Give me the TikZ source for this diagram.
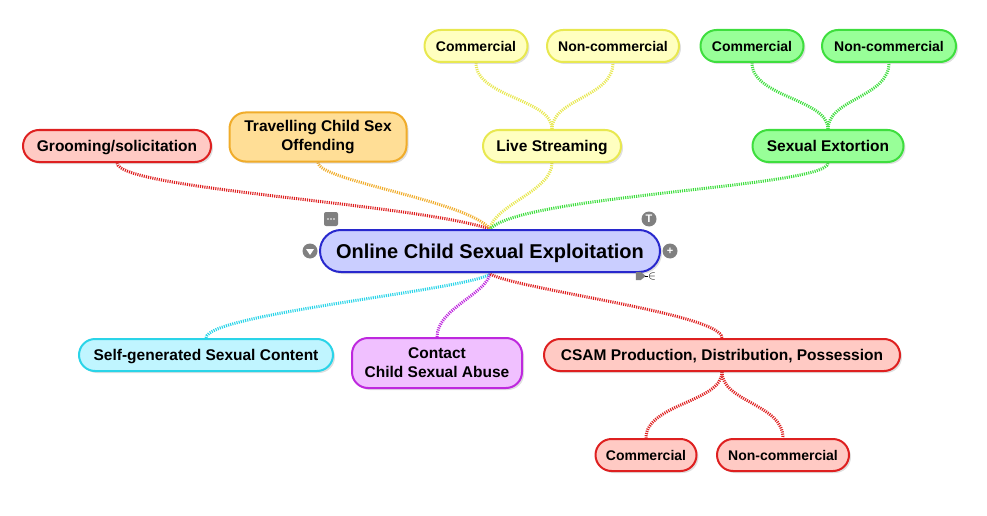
\documentclass[tikz,border=0pt]{standalone}
\usepackage{fontspec}
\setmainfont{Liberation Sans}
\usetikzlibrary{shadows,calc,backgrounds}

\definecolor{redline}{RGB}{222,32,32}
\definecolor{redfill}{RGB}{255,202,196}
\definecolor{orangeline}{RGB}{240,172,42}
\definecolor{orangefill}{RGB}{255,222,150}
\definecolor{yellowline}{RGB}{232,232,80}
\definecolor{yellowfill}{RGB}{255,255,192}
\definecolor{greenline}{RGB}{62,222,62}
\definecolor{greenfill}{RGB}{152,255,152}
\definecolor{blueline}{RGB}{40,40,205}
\definecolor{bluefill}{RGB}{202,206,255}
\definecolor{cyanline}{RGB}{42,212,232}
\definecolor{cyanfill}{RGB}{192,245,255}
\definecolor{purpleline}{RGB}{190,40,222}
\definecolor{purplefill}{RGB}{240,192,255}
\definecolor{icongray}{RGB}{128,128,128}

\tikzset{
  topic/.style 2 args={draw=#1, fill=#2, line width=2pt, rounded corners=16pt,
    minimum height=32pt, text=black, text height=13pt, text depth=2pt,
    font=\fontsize{15.5}{19}\selectfont\bfseries,
    drop shadow={opacity=0.25, shadow xshift=2pt, shadow yshift=-2pt}},
  twoline/.style={align=center, text height=, text depth=},
  subtopic/.style 2 args={topic={#1}{#2}, font=\fontsize{14}{17}\selectfont\bfseries},
  link/.style={draw=#1, line width=3pt, dash pattern=on 1.1pt off 1.1pt},
  knob/.style={circle, fill=icongray, inner sep=0pt, minimum size=15pt,
    text=white, font=\fontsize{11}{11}\selectfont\bfseries}
}

\begin{document}
\begin{tikzpicture}[x=1pt, y=-1pt]
  \useasboundingbox (0,0) rectangle (987,516);

  % central topic
  \node[topic={blueline}{bluefill}, minimum width=340pt, minimum height=42pt,
        rounded corners=21pt, font=\fontsize{20}{24}\selectfont\bfseries,
        text height=16.5pt, text depth=2.5pt]
        (hub) at (490,251) {Online Child Sexual Exploitation};
  \coordinate (hubtop) at (490,229);
  \coordinate (hubbot) at (490,274);

  % upper branches
  \node[topic={redline}{redfill}, minimum width=188pt] (groom) at (117,146) {Grooming/solicitation};
  \node[topic={orangeline}{orangefill}, twoline, minimum width=177pt, minimum height=49pt]
        (travel) at (318,137) {Travelling Child Sex\\Offending};
  \node[topic={yellowline}{yellowfill}, minimum width=138pt] (live) at (552,146) {Live Streaming};
  \node[topic={greenline}{greenfill}, minimum width=151pt] (sextort) at (828,146) {Sexual Extortion};

  % sub topics above
  \node[subtopic={yellowline}{yellowfill}, minimum width=103pt] (livecom) at (476,46) {Commercial};
  \node[subtopic={yellowline}{yellowfill}, minimum width=132pt] (livenon) at (613,46) {Non-commercial};
  \node[subtopic={greenline}{greenfill}, minimum width=103pt] (sexcom) at (752,46) {Commercial};
  \node[subtopic={greenline}{greenfill}, minimum width=134pt] (sexnon) at (889,46) {Non-commercial};

  % lower branches
  \node[topic={cyanline}{cyanfill}, minimum width=254pt] (selfgen) at (206,355) {Self-generated Sexual Content};
  \node[topic={purpleline}{purplefill}, twoline, minimum width=170pt, minimum height=50pt]
        (contact) at (437,363) {Contact\\Child Sexual Abuse};
  \node[topic={redline}{redfill}, minimum width=356pt] (csam) at (722,355) {CSAM Production, Distribution, Possession};

  % sub topics below
  \node[subtopic={redline}{redfill}, minimum width=101pt] (csamcom) at (646,455) {Commercial};
  \node[subtopic={redline}{redfill}, minimum width=132pt] (csamnon) at (783,455) {Non-commercial};

  \begin{scope}[on background layer]
  % links to the hub
  \draw[link=redline] (groom.south) .. controls +(2,26) and +(-80,-26) .. (hubtop);
  \draw[link=orangeline] (travel.south) .. controls +(0,18) and +(-22,-28) .. (hubtop);
  \draw[link=yellowline] (live.south) .. controls +(0,28) and +(4,-24) .. (hubtop);
  \draw[link=greenline] (sextort.south) .. controls +(0,24) and +(32,-34) .. (hubtop);
  \draw[link=cyanline] (selfgen.north) .. controls +(0,-24) and +(-22,16) .. (hubbot);
  \draw[link=purpleline] (contact.north) .. controls +(0,-28) and +(-4,20) .. (hubbot);
  \draw[link=redline] (csam.north) .. controls +(0,-24) and +(30,16) .. (hubbot);
  % links to the sub topics
  \draw[link=yellowline] (live.north) .. controls +(0,-30) and +(0,34) .. (livecom.south);
  \draw[link=yellowline] (live.north) .. controls +(0,-30) and +(0,34) .. (livenon.south);
  \draw[link=greenline] (sextort.north) .. controls +(0,-30) and +(0,34) .. (sexcom.south);
  \draw[link=greenline] (sextort.north) .. controls +(0,-30) and +(0,34) .. (sexnon.south);
  \draw[link=redline] (csam.south) .. controls +(0,30) and +(0,-34) .. (csamcom.north);
  \draw[link=redline] (csam.south) .. controls +(0,30) and +(0,-34) .. (csamnon.north);
  \end{scope}

  % little handles round the hub
  \node[fill=icongray, rounded corners=2pt, inner sep=0pt, minimum size=14pt] (notes) at (331,219) {};
  \foreach \dx in {-3,0,3}
    \fill[white] ($(notes)+(\dx,0)$) circle (0.9pt);
  \node[knob] (title) at (649,219) {T};
  \node[knob] (expand) at (670,251) {+};
  \node[knob] (collapse) at (310,251) {};
  \fill[white] ($(collapse)+(-4,-2)$) -- ($(collapse)+(4,-2)$) -- ($(collapse)+(0,4)$) -- cycle;
  \node[inner sep=0pt, font=\fontsize{12}{12}\selectfont] (relate) at (652,276) {$\in$};
  \fill[icongray] ($(relate.west)+(-2,0)$) -- ++(-5,-4) -- ++(-5,0) -- ++(0,8) -- ++(5,0) -- cycle;
  \draw[line width=1pt] (relate.west) -- ++(-3,0);
\end{tikzpicture}
\end{document}
